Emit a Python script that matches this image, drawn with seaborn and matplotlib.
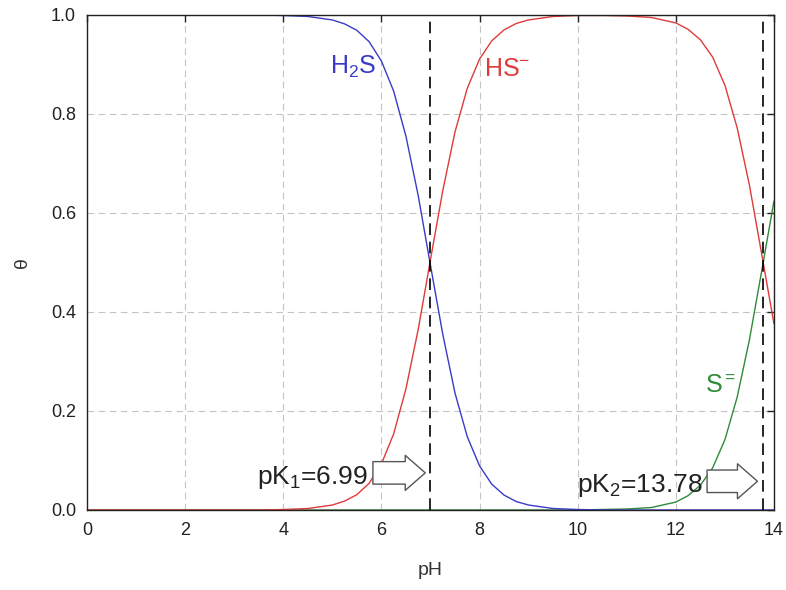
import matplotlib
matplotlib.use("Agg")
import matplotlib.pyplot as plt
import seaborn as sns
import pandas as pd

# pH grid and fractions
ph = [0, 1, 2, 3, 3.5, 4, 4.5, 5, 5.25, 5.5, 5.75, 6, 6.25, 6.5, 6.75, 7,
      7.25, 7.5, 7.75, 8, 8.25, 8.5, 8.75, 9, 9.5, 10, 10.5, 11, 11.5, 12,
      12.25, 12.5, 12.75, 13, 13.25, 13.5, 13.75, 14]
h2s = [1.0, 1.0, 1.0, 1.0, 1.0, 0.999, 0.997, 0.990, 0.982, 0.969, 0.946, 0.907,
       0.846, 0.755, 0.635, 0.494, 0.355, 0.236, 0.148, 0.089, 0.052, 0.030,
       0.017, 0.010, 0.003, 0.001, 0.0, 0.0, 0.0, 0.0, 0.0, 0.0, 0.0, 0.0, 0.0,
       0.0, 0.0, 0.0]
hs = [0.0, 0.0, 0.0, 0.0, 0.0, 0.001, 0.003, 0.010, 0.018, 0.031, 0.054, 0.093,
      0.154, 0.245, 0.365, 0.506, 0.645, 0.764, 0.852, 0.911, 0.948, 0.970,
      0.983, 0.990, 0.997, 0.999, 0.999, 0.998, 0.995, 0.984, 0.971, 0.950,
      0.915, 0.858, 0.772, 0.656, 0.517, 0.376]
s2 = [0.0, 0.0, 0.0, 0.0, 0.0, 0.0, 0.0, 0.0, 0.0, 0.0, 0.0, 0.0, 0.0, 0.0, 0.0,
      0.0, 0.0, 0.0, 0.0, 0.0, 0.0, 0.0, 0.0, 0.0, 0.0, 0.0, 0.001, 0.002,
      0.005, 0.016, 0.029, 0.050, 0.085, 0.142, 0.228, 0.344, 0.483, 0.624]
pk_values = [6.99, 13.78]
pk_labels = ["pK$_1$=6.99", "pK$_2$=13.78"]
species_labels = ["H$_2$S", "HS$^{-}$", "S$^{=}$"]

colors = ["#3a3ac8", "#e03a3a", "#2e8b3a"]

sns.set_theme(style="white")
plt.rcParams['font.family'] = ['Liberation Sans', 'DejaVu Sans']
plt.rcParams['mathtext.fontset'] = 'custom'
plt.rcParams['mathtext.rm'] = 'Liberation Sans'
plt.rcParams['mathtext.it'] = 'Liberation Sans'

fig = plt.figure(figsize=(7.86, 5.90), dpi=100)
ax = fig.add_axes([0.1107, 0.1356, 0.874, 0.839])

df = pd.DataFrame({"pH": ph * 3,
                   "theta": h2s + hs + s2,
                   "species": ["H2S"] * len(ph) + ["HS"] * len(ph) + ["S"] * len(ph)})
for sp, c in zip(["S", "H2S", "HS"], [colors[2], colors[0], colors[1]]):
    sns.lineplot(data=df[df.species == sp], x="pH", y="theta", color=c,
                 lw=1.0, ax=ax, legend=False, sort=False)

ax.set_xlim(0, 14)
ax.set_ylim(0, 1.0)
ax.set_xticks(range(0, 15, 2))
ax.set_yticks([0, 0.2, 0.4, 0.6, 0.8, 1.0])
ax.set_yticklabels(["0.0", "0.2", "0.4", "0.6", "0.8", "1.0"])
ax.grid(True, color="#c4c4c4", linestyle=(0, (6, 4)), lw=0.8)
ax.set_axisbelow(True)
for sp in ax.spines.values():
    sp.set_color("#222222")
    sp.set_linewidth(1.0)
ax.tick_params(direction="in", length=5, width=1, top=True, right=True,
               labelsize=13, colors="#222222")
ax.tick_params(axis="x", pad=9)
ax.tick_params(axis="y", pad=8)
ax.set_xlabel("pH", fontsize=14, color="#333333", labelpad=16)
ax.set_ylabel("θ", fontsize=14, color="#333333", labelpad=14)

for pk in pk_values:
    ax.axvline(pk, color="black", lw=1.2, linestyle=(0, (7, 4)), zorder=3)

# species labels
ax.text(4.95, 0.895, species_labels[0], color=colors[0], fontsize=18, ha="left", va="center")
ax.text(8.1, 0.89, species_labels[1], color=colors[1], fontsize=18, ha="left", va="center")
ax.text(12.6, 0.25, species_labels[2], color=colors[2], fontsize=18, ha="left", va="center")

# pK arrows and texts
arrow_props = dict(arrowstyle="simple,head_width=1.4,head_length=0.8,tail_width=0.9",
                   fc="white", ec="#555555", lw=1.0, mutation_scale=18)
ax.annotate("", xy=(6.95, 0.075), xytext=(5.77, 0.075), arrowprops=arrow_props, zorder=4)
ax.text(5.72, 0.066, pk_labels[0], fontsize=19, color="#222222", ha="right", va="center")
ax.annotate("", xy=(13.72, 0.058), xytext=(12.58, 0.058), arrowprops=arrow_props, zorder=4)
ax.text(12.55, 0.05, pk_labels[1], fontsize=19, color="#222222", ha="right", va="center")

fig.savefig("out.png", dpi=100, facecolor="white")
